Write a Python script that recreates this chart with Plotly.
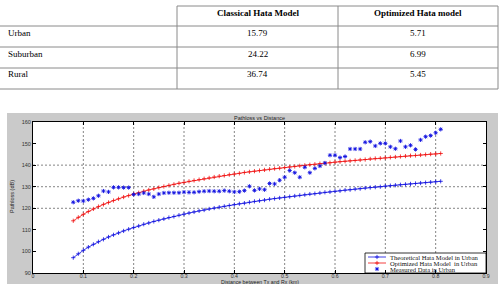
import plotly.graph_objects as go

# ---------------- data ----------------
table_header = ["Classical Hata Model", "Optimized Hata model"]
environments = ["Urban", "Suburban", "Rural"]
classical_err = ["15.79", "24.22", "36.74"]
optimized_err = ["5.71", "6.99", "5.45"]

distance_km = [
    0.08, 0.09, 0.10, 0.11, 0.12, 0.13, 0.14, 0.15, 0.16, 0.17,
    0.18, 0.19, 0.20, 0.21, 0.22, 0.23, 0.24, 0.25, 0.26, 0.27,
    0.28, 0.29, 0.30, 0.31, 0.32, 0.33, 0.34, 0.35, 0.36, 0.37,
    0.38, 0.39, 0.40, 0.41, 0.42, 0.43, 0.44, 0.45, 0.46, 0.47,
    0.48, 0.49, 0.50, 0.51, 0.52, 0.53, 0.54, 0.55, 0.56, 0.57,
    0.58, 0.59, 0.60, 0.61, 0.62, 0.63, 0.64, 0.65, 0.66, 0.67,
    0.68, 0.69, 0.70, 0.71, 0.72, 0.73, 0.74, 0.75, 0.76, 0.77,
    0.78, 0.79, 0.80, 0.81,
]
theoretical_hata = [
    97.1, 98.9, 100.5, 102.0, 103.3, 104.5, 105.6, 106.7, 107.7, 108.6,
    109.5, 110.3, 111.1, 111.8, 112.6, 113.2, 113.9, 114.5, 115.1, 115.7,
    116.2, 116.8, 117.3, 117.8, 118.3, 118.8, 119.2, 119.7, 120.1, 120.5,
    120.9, 121.3, 121.7, 122.1, 122.4, 122.8, 123.2, 123.5, 123.8, 124.2,
    124.5, 124.8, 125.1, 125.4, 125.7, 126.0, 126.3, 126.6, 126.8, 127.1,
    127.4, 127.6, 127.9, 128.1, 128.4, 128.6, 128.9, 129.1, 129.4, 129.6,
    129.8, 130.0, 130.3, 130.5, 130.7, 130.9, 131.1, 131.3, 131.5, 131.7,
    131.9, 132.1, 132.3, 132.5,
]
optimized_hata = [
    114.2, 115.8, 117.2, 118.5, 119.7, 120.8, 121.8, 122.7, 123.6, 124.4,
    125.2, 125.9, 126.6, 127.2, 127.9, 128.5, 129.0, 129.6, 130.1, 130.6,
    131.1, 131.6, 132.0, 132.5, 132.9, 133.3, 133.7, 134.1, 134.5, 134.9,
    135.2, 135.6, 135.9, 136.2, 136.6, 136.9, 137.2, 137.5, 137.8, 138.1,
    138.4, 138.6, 138.9, 139.2, 139.4, 139.7, 139.9, 140.2, 140.4, 140.7,
    140.9, 141.1, 141.4, 141.6, 141.8, 142.0, 142.2, 142.4, 142.6, 142.9,
    143.1, 143.2, 143.4, 143.6, 143.8, 144.0, 144.2, 144.4, 144.5, 144.7,
    144.9, 145.1, 145.2, 145.4,
]
measured_urban = [
    122.8, 123.5, 123.4, 124.0, 124.6, 125.8, 128.0, 127.6, 129.7, 129.7,
    129.6, 129.6, 126.4, 126.6, 127.1, 126.6, 125.3, 126.6, 127.1, 127.2,
    127.2, 127.2, 127.5, 127.4, 127.4, 127.7, 127.9, 128.0, 127.9, 127.9,
    128.2, 127.9, 127.6, 127.7, 128.2, 130.2, 128.3, 129.0, 128.6, 131.5,
    131.3, 133.0, 134.4, 137.5, 136.5, 134.4, 139.0, 136.5, 138.5, 139.6,
    141.0, 144.6, 144.6, 143.5, 144.0, 147.5, 147.5, 147.5, 150.6, 150.9,
    148.9, 150.1, 150.1, 148.5, 147.6, 151.2, 148.5, 149.2, 147.3, 151.7,
    153.2, 153.7, 155.0, 156.6,
]
series_names = ["Theoretical Hata Model in Urban",
                "Optimized Hata Model  in Urban",
                "Measured Data in Urban"]
x_ticks = [0, 0.1, 0.2, 0.3, 0.4, 0.5, 0.6, 0.7, 0.8, 0.9]
y_ticks = [90, 100, 110, 120, 130, 140, 150, 160]
y_grid_visible = [120, 130, 140]

# ---------------- layout helpers ----------------
W, H = 501, 284
ML, MR, MT, MB = 33, 15, 122, 11
PW, PH = W - ML - MR, H - MT - MB


def fx(p):
    return (p - ML) / PW


def fy(p):
    return (H - MB - p) / PH


BLUE = "#1010e0"
RED = "#f01010"
SANS = "Liberation Sans, Arial, sans-serif"
SERIF = "Liberation Serif, Times New Roman, serif"


def note(x, y, text, size, family, color="black", xanchor="center", angle=0):
    return dict(x=x, y=y, xref="paper", yref="paper", text=text, showarrow=False,
                xanchor=xanchor, yanchor="middle", textangle=angle,
                font=dict(family=family, size=size, color=color))


fig = go.Figure()

fig.add_trace(go.Scatter(
    x=distance_km, y=theoretical_hata, mode="lines+markers", name=series_names[0],
    line=dict(color=BLUE, width=0.8),
    marker=dict(symbol="cross-thin", size=3, color=BLUE, line=dict(color=BLUE, width=0.8)),
    showlegend=False))
fig.add_trace(go.Scatter(
    x=distance_km, y=optimized_hata, mode="lines+markers", name=series_names[1],
    line=dict(color=RED, width=0.8),
    marker=dict(symbol="cross-thin", size=3, color=RED, line=dict(color=RED, width=0.8)),
    showlegend=False))
fig.add_trace(go.Scatter(
    x=distance_km, y=measured_urban, mode="markers", name=series_names[2],
    marker=dict(symbol="asterisk-open", size=3.5, color=BLUE, line=dict(color=BLUE, width=0.9)),
    showlegend=False))

shapes = []
annotations = []

# grey figure frame + white axes area
shapes.append(dict(type="rect", xref="paper", yref="paper", x0=fx(7), x1=fx(498),
                   y0=fy(284), y1=fy(113), fillcolor="#cacaca", line=dict(width=0), layer="below"))
shapes.append(dict(type="rect", xref="paper", yref="paper", x0=0, x1=1, y0=0, y1=1,
                   fillcolor="white", line=dict(width=0), layer="below"))

# grid lines
for xv in x_ticks[1:-1]:
    shapes.append(dict(type="line", xref="x", yref="paper", x0=xv, x1=xv, y0=0, y1=1,
                       line=dict(color="#666666", width=0.8, dash="2px,2px"), layer="below"))
for yv in y_grid_visible:
    shapes.append(dict(type="line", xref="paper", yref="y", x0=0, x1=1, y0=yv, y1=yv,
                       line=dict(color="#666666", width=0.8, dash="2px,2px"), layer="below"))

# legend box (drawn manually)
shapes.append(dict(type="rect", xref="paper", yref="paper", x0=fx(365), x1=1,
                   y0=0, y1=fy(253), fillcolor="white", line=dict(color="black", width=0.8),
                   layer="below"))
leg_y = [257, 263, 269]
leg_colors = [BLUE, RED, BLUE]
for i, name in enumerate(series_names):
    if i < 2:
        shapes.append(dict(type="line", xref="paper", yref="paper", x0=fx(368), x1=fx(386),
                           y0=fy(leg_y[i]), y1=fy(leg_y[i]),
                           line=dict(color=leg_colors[i], width=0.8), layer="below"))
    annotations.append(note(fx(388), fy(leg_y[i]), name, 6.6, SERIF, "#111", xanchor="left"))

# legend glyph markers on an overlay axis (0..1 == plot area)
fig.add_trace(go.Scatter(
    x=[fx(377)], y=[fy(leg_y[0])], xaxis="x2", yaxis="y2",
    mode="markers", marker=dict(symbol="cross-thin", size=3, color=BLUE,
                                line=dict(color=BLUE, width=0.8)),
    showlegend=False, hoverinfo="skip"))
fig.add_trace(go.Scatter(
    x=[fx(377)], y=[fy(leg_y[1])], xaxis="x2", yaxis="y2",
    mode="markers", marker=dict(symbol="cross-thin", size=3, color=RED,
                                line=dict(color=RED, width=0.8)),
    showlegend=False, hoverinfo="skip"))
fig.add_trace(go.Scatter(
    x=[fx(377)], y=[fy(leg_y[2])], xaxis="x2", yaxis="y2",
    mode="markers", marker=dict(symbol="asterisk-open", size=3.5, color=BLUE,
                                line=dict(color=BLUE, width=0.9)),
    showlegend=False, hoverinfo="skip"))

# titles
annotations.append(note(0.5, fy(117.5), "Pathloss vs Distance", 5.5, SANS, "#222"))
annotations.append(note(0.5, fy(282), "Distance between Tx and Rx (km)", 5.2, SANS, "#222"))
annotations.append(note(fx(12), fy(197), "Pathloss (dB)", 5.5, SANS, "#222", angle=-90))

# ---------------- table ----------------
TC = "#8a8a8a"
col_x = [177, 338, 498]
row_y = [6, 26, 47, 68, 89]
shapes.append(dict(type="line", xref="paper", yref="paper", x0=fx(col_x[0]), x1=fx(col_x[2]),
                   y0=fy(row_y[0]), y1=fy(row_y[0]), line=dict(color=TC, width=1)))
for yy in row_y[1:]:
    shapes.append(dict(type="line", xref="paper", yref="paper", x0=fx(0), x1=fx(col_x[2]),
                       y0=fy(yy), y1=fy(yy), line=dict(color=TC, width=1)))
for xx in col_x:
    shapes.append(dict(type="line", xref="paper", yref="paper", x0=fx(xx), x1=fx(xx),
                       y0=fy(row_y[0]), y1=fy(row_y[-1]), line=dict(color=TC, width=1)))

col_centers = [257.5, 417.5]
for j, h in enumerate(table_header):
    annotations.append(note(fx(col_centers[j]), fy(12.5), "<b>" + h + "</b>", 9, SERIF))
text_rows = [33, 53.5, 74]
for i, env in enumerate(environments):
    annotations.append(note(fx(6), fy(text_rows[i]), env, 9, SERIF, xanchor="left"))
    annotations.append(note(fx(col_centers[0]), fy(text_rows[i]), classical_err[i], 9, SERIF))
    annotations.append(note(fx(col_centers[1]), fy(text_rows[i]), optimized_err[i], 9, SERIF))

fig.update_layout(
    width=W, height=H,
    margin=dict(l=ML, r=MR, t=MT, b=MB, pad=0),
    paper_bgcolor="white", plot_bgcolor="rgba(0,0,0,0)",
    showlegend=False,
    xaxis=dict(range=[0, 0.9], tickvals=x_ticks, ticktext=[str(v) for v in x_ticks],
               showgrid=False, zeroline=False, showline=True, linecolor="black", linewidth=1,
               mirror="ticks", ticks="inside", ticklen=3, tickcolor="black",
               ticklabelstandoff=-2,
               tickfont=dict(family=SANS, size=5.2, color="#333"), automargin=False),
    yaxis=dict(range=[90, 160], tickvals=y_ticks, showgrid=False, zeroline=False,
               showline=True, linecolor="black", linewidth=1, mirror="ticks",
               ticks="inside", ticklen=3, tickcolor="black",
               tickfont=dict(family=SANS, size=5.5, color="#333"), automargin=False),
    xaxis2=dict(overlaying="x", range=[0, 1], visible=False, anchor="y2"),
    yaxis2=dict(overlaying="y", range=[0, 1], visible=False, anchor="x2"),
    shapes=shapes,
    annotations=annotations,
)

fig.write_html("out.html")
